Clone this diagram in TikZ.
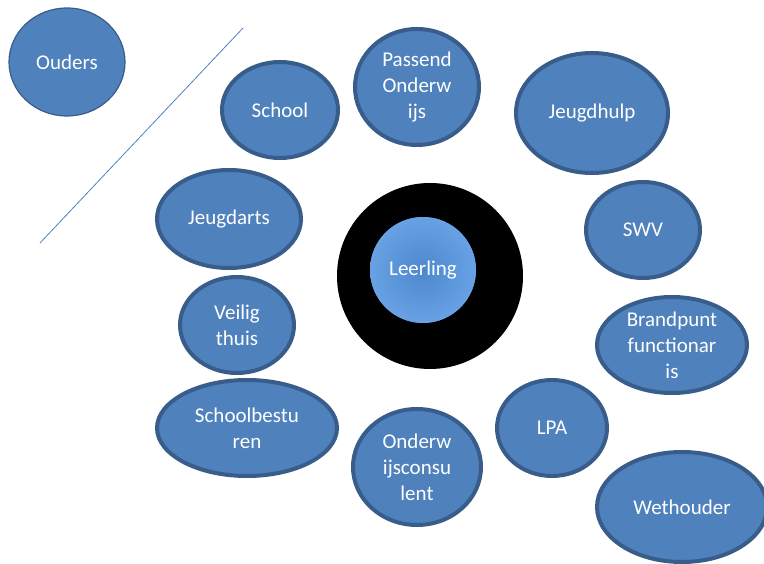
\documentclass[tikz,border=0pt]{standalone}
\usepackage{fontspec}
\setmainfont{Carlito}
\usetikzlibrary{shapes.geometric}
\definecolor{bubblefill}{RGB}{79,129,189}
\definecolor{bubbleline}{RGB}{56,93,138}
\definecolor{pupilfill}{RGB}{76,136,206}
\definecolor{pupilrim}{RGB}{104,162,228}

\begin{document}
\begin{tikzpicture}[x=1pt,y=-1pt,
  every node/.style={ellipse,fill=bubblefill,draw=bubbleline,line width=4pt,inner sep=0pt,
    align=center,text=white,font=\fontsize{21}{26}\selectfont},
  bubble/.style n args={2}{minimum width=#1*2pt-4pt,minimum height=#2*2pt-4pt}]
  \clip (0,0) rectangle (764,564);
  \useasboundingbox (0,0) rectangle (764,564);
  % dividing line
  \coordinate (lineA) at (40,243);
  \coordinate (lineB) at (243,28);
  \draw[bubblefill,line width=0.8pt] (lineA) -- (lineB);
  % centre
  \fill[black] (430,276) circle (93);
  \node[circle,draw=none,shading=radial,inner color=pupilfill,outer color=pupilrim,
        minimum size=106pt] (leerling) at (423,270) {Leerling};
  % bubbles
  \node[line width=1.2pt,bubble={60}{56}] (ouders) at (67,62) {Ouders};
  \node[bubble={60}{50}] (school) at (280,110) {School};
  \node[bubble={64}{60}] (passend) at (417,87) {Passend\\Onderw\\ijs};
  \node[bubble={78}{62}] (jeugdhulp) at (592,113) {Jeugdhulp};
  \node[bubble={74}{51}] (jeugdarts) at (229,219) {Jeugdarts};
  \node[bubble={59}{50}] (swv) at (643,230) {SWV};
  \node[bubble={59}{50}] (veilig) at (237,325) {Veilig\\thuis};
  \node[bubble={77}{50}] (brandpunt) at (672,345) {Brandpunt\\functionar\\is};
  \node[bubble={92}{50}] (besturen) at (247,428) {Schoolbestu\\ren};
  \node[bubble={66}{60}] (consulent) at (417,467) {Onderw\\ijsconsu\\lent};
  \node[bubble={57}{50}] (lpa) at (552,428) {LPA};
  \node[bubble={87}{57}] (wethouder) at (682,507) {Wethouder};
\end{tikzpicture}
\end{document}
